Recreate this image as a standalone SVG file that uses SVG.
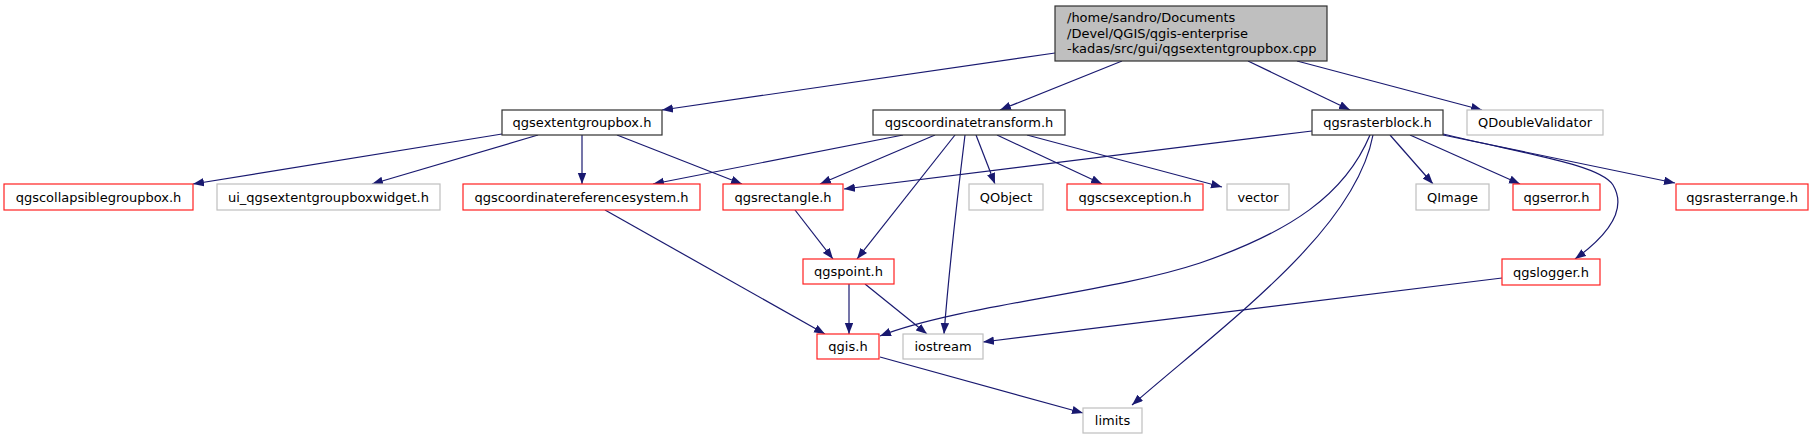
<svg xmlns="http://www.w3.org/2000/svg" width="1813" height="440" viewBox="0 0 1813 440">
<style>
.n rect{stroke-width:1.2}
.b rect{fill:#fff;stroke:#303030}
.r rect{fill:#fff;stroke:#ff2020}
.g rect{fill:#fff;stroke:#bfbfbf}
.m rect{fill:#bfbfbf;stroke:#303030}
text{font-family:"DejaVu Sans",sans-serif;font-size:13px;fill:#000}
.c text{text-anchor:middle}
#edges path{fill:none;stroke:#191970;stroke-width:1.2;marker-end:url(#ah)}
</style>
<defs>
<marker id="ah" markerUnits="userSpaceOnUse" markerWidth="12" markerHeight="9" refX="11" refY="4.2" orient="auto">
<path d="M0,0 L11,4.2 L0,8.4 z" fill="#191970"/>
</marker>
</defs>
<rect width="1813" height="440" fill="#fff"/>
<g id="edges">
<path d="M1055,53 L662,110"/>
<path d="M1122,61 L1000,110"/>
<path d="M1248,61 L1350,110"/>
<path d="M1297,61 L1482,110"/>
<path d="M502,134 L193,184"/>
<path d="M538,135 L372,184"/>
<path d="M582,135 L582,184"/>
<path d="M617,135 L742,184"/>
<path d="M903,135 L653,184"/>
<path d="M935,135 L820,184"/>
<path d="M955,135 L857,259"/>
<path d="M965,135 C957,200 949,270 944,334"/>
<path d="M976,135 L995,184"/>
<path d="M997,135 L1102,184"/>
<path d="M1027,135 L1222,187"/>
<path d="M1312,131 L844,189"/>
<path d="M1370,135 C1345,195 1290,232 1200,263 C1110,293 960,305 880,336"/>
<path d="M1373,135 C1355,230 1230,320 1132,405"/>
<path d="M1390,135 L1433,184"/>
<path d="M1410,135 L1520,184"/>
<path d="M1443,135 L1675,183"/>
<path d="M1443,134 C1530,155 1600,165 1613,185 C1625,205 1615,230 1575,259"/>
<path d="M795,210 L833,259"/>
<path d="M605,210 L825,334"/>
<path d="M849,284 L849,334"/>
<path d="M865,284 L927,334"/>
<path d="M1502,278 L983,342"/>
<path d="M880,357 L1083,413"/>
</g>
<g id="main" class="n m"><rect x="1055" y="6" width="272" height="55"/>
<text x="1067" y="22">/home/sandro/Documents</text>
<text x="1067" y="37.5">/Devel/QGIS/qgis-enterprise</text>
<text x="1067" y="53">-kadas/src/gui/qgsextentgroupbox.cpp</text></g>
<g id="qgsextentgroupbox" class="n b c"><rect x="502" y="110" width="160" height="25"/><text x="582" y="127">qgsextentgroupbox.h</text></g>
<g id="qgscoordinatetransform" class="n b c"><rect x="873" y="110" width="192" height="25"/><text x="969" y="127">qgscoordinatetransform.h</text></g>
<g id="qgsrasterblock" class="n b c"><rect x="1312" y="110" width="131" height="25"/><text x="1377.5" y="127">qgsrasterblock.h</text></g>
<g id="QDoubleValidator" class="n g c"><rect x="1467" y="110" width="136" height="25"/><text x="1535" y="127">QDoubleValidator</text></g>
<g id="qgscollapsiblegroupbox" class="n r c"><rect x="4" y="184" width="189" height="26"/><text x="98.5" y="201.5">qgscollapsiblegroupbox.h</text></g>
<g id="ui_qgsextentgroupboxwidget" class="n g c"><rect x="217" y="184" width="223" height="26"/><text x="328.5" y="201.5">ui_qgsextentgroupboxwidget.h</text></g>
<g id="qgscoordinatereferencesystem" class="n r c"><rect x="463" y="184" width="237" height="26"/><text x="581.5" y="201.5">qgscoordinatereferencesystem.h</text></g>
<g id="qgsrectangle" class="n r c"><rect x="723" y="184" width="120" height="26"/><text x="783" y="201.5">qgsrectangle.h</text></g>
<g id="QObject" class="n g c"><rect x="969" y="184" width="74" height="26"/><text x="1006" y="201.5">QObject</text></g>
<g id="qgscsexception" class="n r c"><rect x="1067" y="184" width="136" height="26"/><text x="1135" y="201.5">qgscsexception.h</text></g>
<g id="vector" class="n g c"><rect x="1227" y="184" width="62" height="26"/><text x="1258" y="201.5">vector</text></g>
<g id="QImage" class="n g c"><rect x="1416" y="184" width="73" height="26"/><text x="1452.5" y="201.5">QImage</text></g>
<g id="qgserror" class="n r c"><rect x="1513" y="184" width="87" height="26"/><text x="1556.5" y="201.5">qgserror.h</text></g>
<g id="qgsrasterrange" class="n r c"><rect x="1676" y="184" width="132" height="26"/><text x="1742" y="201.5">qgsrasterrange.h</text></g>
<g id="qgspoint" class="n r c"><rect x="803" y="259" width="91" height="25"/><text x="848.5" y="276">qgspoint.h</text></g>
<g id="qgslogger" class="n r c"><rect x="1502" y="259" width="98" height="26"/><text x="1551" y="276.5">qgslogger.h</text></g>
<g id="qgis" class="n r c"><rect x="817" y="334" width="62" height="25"/><text x="848" y="351">qgis.h</text></g>
<g id="iostream" class="n g c"><rect x="903" y="334" width="80" height="25"/><text x="943" y="351">iostream</text></g>
<g id="limits" class="n g c"><rect x="1083" y="408" width="59" height="25"/><text x="1112.5" y="425">limits</text></g>
</svg>
